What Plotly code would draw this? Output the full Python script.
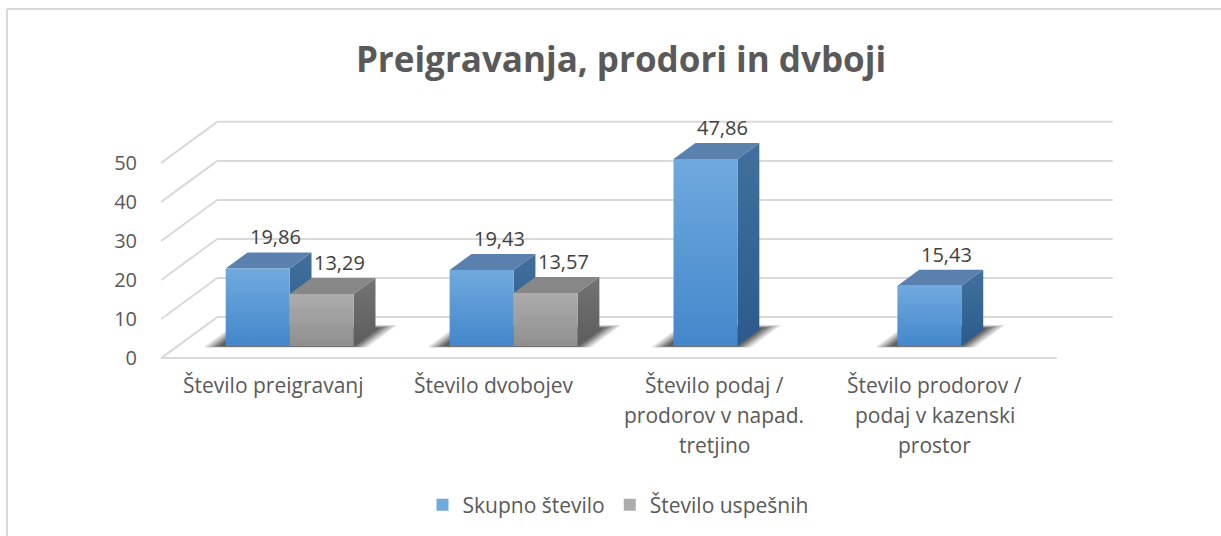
import plotly.graph_objects as go

# ---------------- data ----------------
categories = [
    ["Število preigravanj"],
    ["Število dvobojev"],
    ["Število podaj /", "prodorov v napad.", "tretjino"],
    ["Število prodorov /", "podaj v kazenski", "prostor"],
]
skupno = [19.86, 19.43, 47.86, 15.43]
uspesnih = [13.29, 13.57, None, None]
y_ticks = [0, 10, 20, 30, 40, 50]
series_names = ["Skupno število", "Število uspešnih"]
title_text = "Preigravanja, prodori in dvboji"

# ---------------- pseudo-3D geometry (axis units) ----------------
FLOOR_DEPTH = 10.5      # depth of floor in value units
K = 0.0238              # x shift (category units) per depth unit
Z0 = 3.1                # bar front depth
BAR_DEPTH = 4.1         # bar depth
BW = 0.2857             # bar width (category units)
X_LEFT, X_RIGHT = -0.5, 3.5
PX = 1 / 224.0          # one pixel in category units

GRID = "#d9d9d9"
TXT = "#595959"
FONT = "Open Sans"

styles = [
    dict(front=["#4387cb", "#70a9de"], side=["#2d5a8a", "#41709f"], top="#5a80ad"),
    dict(front=["#8f8f8f", "#acacac"], side=["#5d5d5d", "#737373"], top="#878787"),
]

fig = go.Figure()

def line(xs, ys):
    fig.add_trace(go.Scatter(x=xs, y=ys, mode="lines", line=dict(color=GRID, width=2),
                             hoverinfo="skip", showlegend=False))

# floor front edge
line([X_LEFT, X_RIGHT], [0, 0])
for v in y_ticks:
    line([X_LEFT, X_LEFT + FLOOR_DEPTH * K], [v, v + FLOOR_DEPTH])
    line([X_LEFT + FLOOR_DEPTH * K, X_RIGHT + FLOOR_DEPTH * K], [v + FLOOR_DEPTH, v + FLOOR_DEPTH])

dx = BAR_DEPTH * K

def poly(xs, ys, color=None, grad=None):
    kw = dict(x=xs, y=ys, mode="lines", fill="toself", line=dict(width=0),
              hoverinfo="skip", showlegend=False)
    if grad:
        kw["fillgradient"] = dict(type="vertical", colorscale=[[0, grad[0]], [1, grad[1]]])
        kw["fillcolor"] = grad[1]
    else:
        kw["fillcolor"] = color
    fig.add_trace(go.Scatter(**kw))

# shadows on the floor (soft, layered parallelograms)
for i in range(len(skupno)):
    n = 2 if uspesnih[i] is not None else 1
    fx0 = i + Z0 * K - BW            # front-left x of group at depth Z0
    fx1 = fx0 + n * BW               # front-right x at depth Z0
    for e in [15, 12, 9, 7, 5, 3, 1]:
        za = Z0 - 0.1 - e * 0.02
        zb = Z0 + 4.6 + e * 0.05
        xa = fx0 - (5 + e) * PX
        xb = fx1 + e * PX
        poly([xa + (za - Z0) * K, xb + (za - Z0) * K, xb + (zb - Z0) * K, xa + (zb - Z0) * K],
             [za, za, zb, zb], color="rgba(0,0,0,0.13)")

# bars
for i in range(len(skupno)):
    for s, vals in enumerate([skupno, uspesnih]):
        v = vals[i]
        if v is None:
            continue
        st = styles[s]
        x0 = i + Z0 * K - BW + s * BW
        x1 = x0 + BW
        yb = Z0
        yt = Z0 + v
        poly([x1, x1 + dx, x1 + dx, x1], [yb, yb + BAR_DEPTH, yt + BAR_DEPTH, yt], grad=st["side"])
        poly([x0, x1, x1 + dx, x0 + dx], [yt, yt, yt + BAR_DEPTH, yt + BAR_DEPTH], color=st["top"])
        poly([x0, x1, x1, x0], [yb, yb, yt, yt], grad=st["front"])
        fig.add_annotation(x=(x0 + x1) / 2 + dx * 0.8, y=yt + BAR_DEPTH,
                           text=f"{v:.2f}".replace(".", ","), showarrow=False,
                           yanchor="bottom", font=dict(family=FONT, size=20, color="#404040"))

# category labels (one annotation per line)
for i, lines in enumerate(categories):
    for k, t in enumerate(lines):
        fig.add_annotation(x=i * 0.985, y=0, yref="y", text=t, showarrow=False,
                           yanchor="middle", yshift=-27 - 30 * k,
                           font=dict(family=FONT, size=21, color=TXT))

# legend-only entries
for s, name in enumerate(series_names):
    fig.add_trace(go.Scatter(x=[None], y=[None], mode="markers", name=name,
                             marker=dict(symbol="square", size=12, color=styles[s]["front"][1])))

# chart border (left and top)
L, R, T, B = 150, 97, 116, 174
pw, ph = 1221 - L - R, 536 - T - B
bx = (7 - L) / pw
by = 1 + (T - 9) / ph
fig.add_shape(type="line", xref="paper", yref="paper", x0=bx, x1=bx, y0=by, y1=-2,
              line=dict(color=GRID, width=2))
fig.add_shape(type="line", xref="paper", yref="paper", x0=bx, x1=2, y0=by, y1=by,
              line=dict(color=GRID, width=2))

fig.update_layout(
    width=1221, height=536,
    margin=dict(l=L, r=R, t=T, b=B, autoexpand=False),
    paper_bgcolor="white", plot_bgcolor="white",
    title=dict(text=f"<b>{title_text}</b>", x=621 / 1221, xanchor="center", xref="container",
               y=1 - 60 / 536, yanchor="middle", yref="container",
               font=dict(family=FONT, size=35, color=TXT)),
    xaxis=dict(range=[-0.55, 3.8], showgrid=False, zeroline=False, showticklabels=False,
               fixedrange=True, automargin=False),
    yaxis=dict(range=[-1, 62], showgrid=False, zeroline=False, tickvals=y_ticks,
               ticktext=[str(v) for v in y_ticks], ticklabelstandoff=12,
               tickfont=dict(family=FONT, size=20, color=TXT), fixedrange=True, automargin=False),
    legend=dict(orientation="h", x=618 / 1221, xanchor="center", xref="container",
                y=1 - 505 / 536, yanchor="middle", yref="container",
                font=dict(family=FONT, size=21, color=TXT), itemsizing="constant",
                traceorder="normal", itemwidth=30),
    showlegend=True,
)

fig.write_html("out.html", config={"displayModeBar": False},
               post_script="document.body.style.margin='0';")
